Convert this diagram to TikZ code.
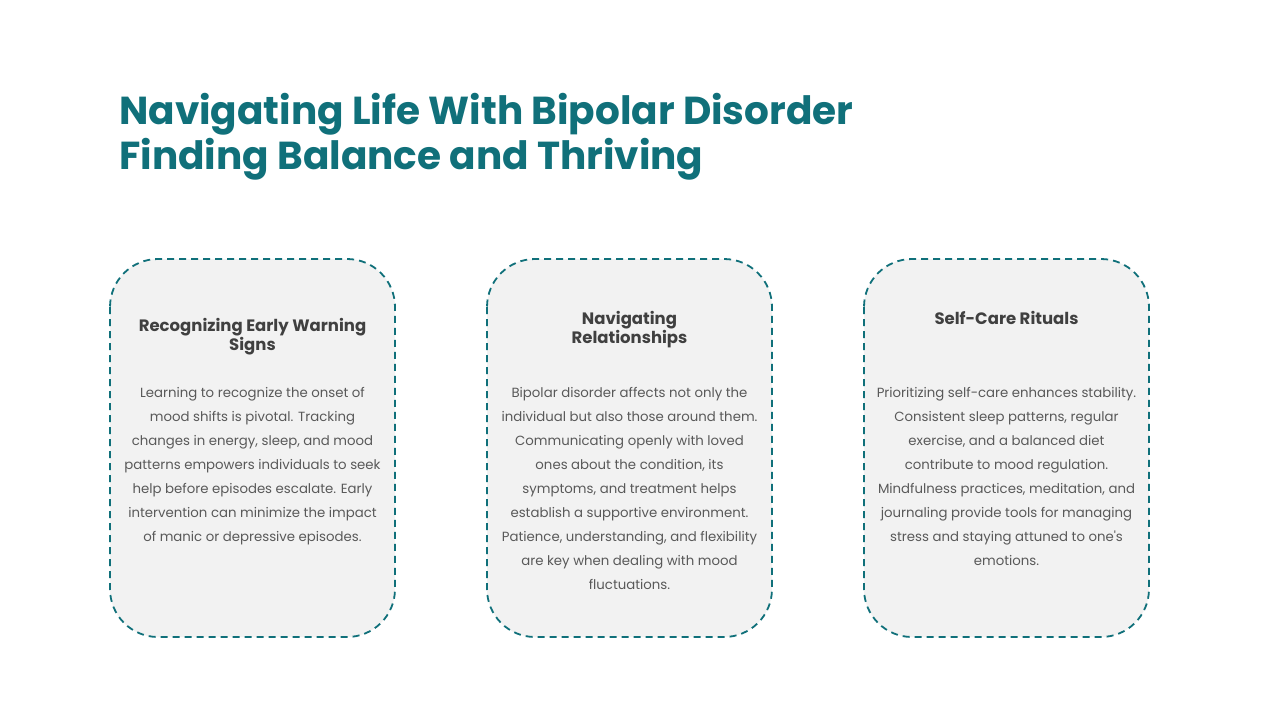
\documentclass[tikz,border=0pt]{standalone}
\usepackage{fontspec}
\setmainfont{Poppins}
\definecolor{teal1}{HTML}{10707A}
\definecolor{cardfill}{HTML}{F2F2F2}
\definecolor{headc}{HTML}{404040}
\definecolor{bodyc}{HTML}{595959}
\begin{document}
\begin{tikzpicture}[x=1pt,y=-1pt,
  card/.style={draw=teal1,line width=1.8pt,dash pattern=on 7pt off 5pt,fill=cardfill,rounded corners=48pt},
  headtxt/.style={font=\fontsize{16.5}{19}\selectfont\bfseries,text=headc,align=center,inner sep=0pt,anchor=north},
  bodytxt/.style={font=\fontsize{13.3}{24}\selectfont,text=bodyc,align=center,inner sep=0pt,anchor=north},
  titletxt/.style={font=\fontsize{39}{45}\selectfont\bfseries,text=teal1,align=left,inner sep=0pt,anchor=north west}]
\useasboundingbox[fill=white] (0,0) rectangle (1280,720);
\node[titletxt] (title) at (119,93) {Navigating Life With Bipolar Disorder\\Finding Balance and Thriving};
\draw[card] (110,259) rectangle (395,637);
\draw[card] (487,259) rectangle (772,637);
\draw[card] (864,259) rectangle (1149,637);
\node[headtxt] (h1) at (252.5,318) {Recognizing Early Warning\\Signs};
\node[headtxt] (h2) at (629.5,311) {Navigating\\Relationships};
\node[headtxt] (h3) at (1006.5,311) {Self-Care Rituals};
\node[bodytxt] (b1) at (252.5,387) {Learning to recognize the onset of\\mood shifts is pivotal. Tracking\\changes in energy, sleep, and mood\\patterns empowers individuals to seek\\help before episodes escalate. Early\\intervention can minimize the impact\\of manic or depressive episodes.};
\node[bodytxt] (b2) at (629.5,387) {Bipolar disorder affects not only the\\individual but also those around them.\\Communicating openly with loved\\ones about the condition, its\\symptoms, and treatment helps\\establish a supportive environment.\\Patience, understanding, and flexibility\\are key when dealing with mood\\fluctuations.};
\node[bodytxt] (b3) at (1006.5,387) {Prioritizing self-care enhances stability.\\Consistent sleep patterns, regular\\exercise, and a balanced diet\\contribute to mood regulation.\\Mindfulness practices, meditation, and\\journaling provide tools for managing\\stress and staying attuned to one\textquotesingle s\\emotions.};
\end{tikzpicture}
\end{document}
